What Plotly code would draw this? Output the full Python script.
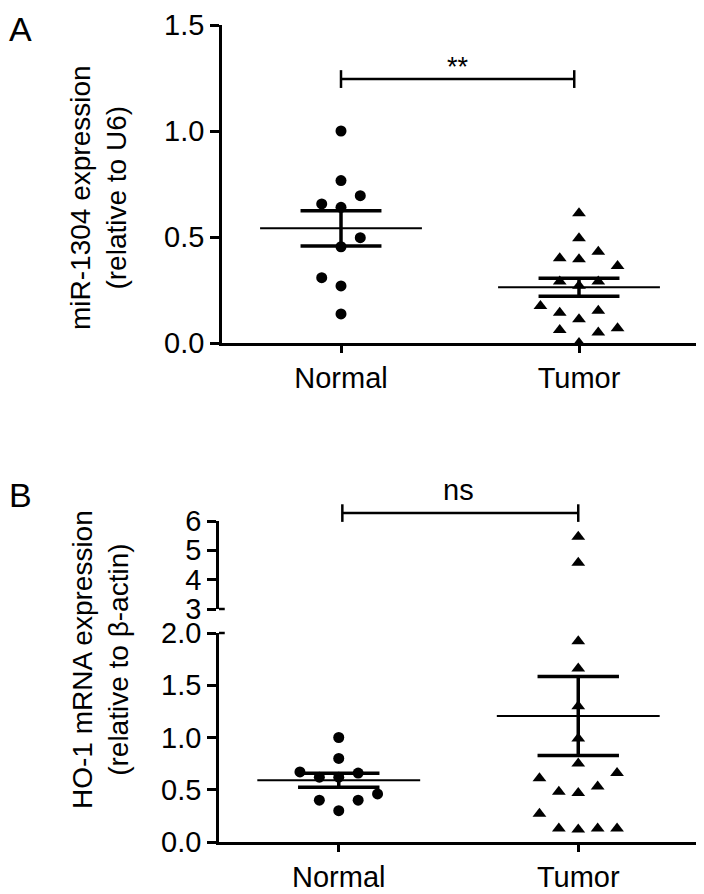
import plotly.graph_objects as go

# values
groups = ["Normal", "Tumor"]

# panel A: miR-1304 (relative to U6)
a_normal = [1.0, 0.766, 0.695, 0.656, 0.64, 0.497, 0.454, 0.308, 0.269, 0.137]
a_normal_slot = [0, 0, 1, -1, 0, 1, 0, -1, 0, 0]
a_tumor = [0.612, 0.494, 0.431, 0.40, 0.395, 0.363, 0.29, 0.27, 0.29,
           0.175, 0.143, 0.152, 0.112, 0.061, 0.05, 0.069, 0.0]
a_tumor_slot = [0, 0, 1, -1, 0, 2, -1, 0, 1, -2, -1, 1, 0, -1, 1, 2, 0]
a_mean = [0.541, 0.263]
a_sem = [0.083, 0.042]
a_sig = 1.245

# panel B: HO-1 mRNA (relative to beta-actin)
b_normal = [1.0, 0.80, 0.67, 0.62, 0.62, 0.66, 0.46, 0.40, 0.40, 0.30]
b_normal_slot = [0, 0, -2, -1, 0, 1, 2, -1, 1, 0]
b_tumor = [5.46, 4.58, 1.92, 1.66, 1.30, 0.99, 0.75, 0.61, 0.66,
           0.48, 0.47, 0.53, 0.27, 0.13, 0.12, 0.13, 0.13]
b_tumor_slot = [0, 0, 0, 0, 0, 0, 0, -2, 2, -1, 0, 1, -2, -1, 0, 1, 2]
b_mean = [0.592, 1.206]
b_sem = [0.067, 0.378]
b_break = 2.0

# the page body has an 8px margin, so the figure is a bit smaller than the window
OFF = 8
W, H = 704 - OFF, 894 - OFF
FONT = "Arial, 'Liberation Sans', sans-serif"
SPREAD = 0.081
MEAN_HALF, SEM_HALF = 0.34, 0.17


def px_x(p):
    return (p - OFF) / W


def px_y(p):
    return 1 - (p - OFF) / H


fig = go.Figure()


def add_points(vals, slots, gi, symbol, size, xa, ya_low, ya_high=None):
    lo = [(gi + s * SPREAD, v) for v, s in zip(vals, slots) if ya_high is None or v <= b_break]
    hi = [(gi + s * SPREAD, v) for v, s in zip(vals, slots) if ya_high is not None and v > b_break]
    for pts, ya in [(lo, ya_low), (hi, ya_high)]:
        if not pts:
            continue
        fig.add_trace(go.Scatter(
            x=[p[0] for p in pts], y=[p[1] for p in pts], mode="markers",
            marker=dict(symbol=symbol, size=size, color="black"),
            xaxis=xa, yaxis=ya, cliponaxis=False, showlegend=False))


def add_mean_sem(means, sems, xa, ya):
    for gi, (m, s) in enumerate(zip(means, sems)):
        fig.add_trace(go.Scatter(x=[gi - MEAN_HALF, gi + MEAN_HALF], y=[m, m], mode="lines",
                                 line=dict(color="black", width=2), xaxis=xa, yaxis=ya,
                                 showlegend=False))
        for yy in (m - s, m + s):
            fig.add_trace(go.Scatter(x=[gi - SEM_HALF, gi + SEM_HALF], y=[yy, yy], mode="lines",
                                     line=dict(color="black", width=3.5), xaxis=xa, yaxis=ya,
                                     showlegend=False))
        fig.add_trace(go.Scatter(x=[gi, gi], y=[m - s, m + s], mode="lines",
                                 line=dict(color="black", width=3.5), xaxis=xa, yaxis=ya,
                                 showlegend=False))


add_points(a_normal, a_normal_slot, 0, "circle", 11, "x", "y")
add_points(a_tumor, a_tumor_slot, 1, "triangle-up", 12, "x", "y")
add_mean_sem(a_mean, a_sem, "x", "y")

add_points(b_normal, b_normal_slot, 0, "circle", 11, "x2", "y2", "y3")
add_points(b_tumor, b_tumor_slot, 1, "triangle-up", 12, "x2", "y2", "y3")
add_mean_sem(b_mean, b_sem, "x2", "y2")

axis_common = dict(showline=True, linecolor="black", linewidth=2.5, ticks="outside",
                   tickcolor="black", tickwidth=2.5, showgrid=False, zeroline=False,
                   automargin=False,
                   tickfont=dict(family=FONT, size=29, color="black"), fixedrange=True)

fig.update_layout(
    template="none",
    width=W, height=H, margin=dict(l=0, r=0, t=0, b=0, pad=0),
    paper_bgcolor="white", plot_bgcolor="white", showlegend=False,
    xaxis=dict(axis_common, domain=[px_x(222), px_x(698)], range=[-0.5, 1.5],
               tickvals=[0, 1], ticktext=groups, ticklen=7, anchor="y"),
    yaxis=dict(axis_common, domain=[px_y(343), px_y(25)], range=[0, 1.5],
               tickvals=[0, 0.5, 1.0, 1.5], tickformat=".1f", ticklen=9, anchor="x"),
    xaxis2=dict(axis_common, domain=[px_x(219), px_x(698)], range=[-0.5, 1.5],
                tickvals=[0, 1], ticktext=groups, ticklen=7, anchor="y2"),
    yaxis2=dict(axis_common, domain=[px_y(842), px_y(633)], range=[0, 2],
                tickvals=[0, 0.5, 1.0, 1.5, 2.0], tickformat=".1f", ticklen=9, anchor="x2"),
    yaxis3=dict(axis_common, domain=[px_y(609), px_y(521)], range=[3, 6],
                tickvals=[3, 4, 5, 6], tickformat="d", ticklen=9, anchor="x2"),
)

# significance bars
line = dict(color="black", width=2.5)
fig.add_shape(type="line", xref="x", yref="y", x0=0, x1=0.98, y0=a_sig, y1=a_sig, line=line)
for xx in (0, 0.98):
    fig.add_shape(type="line", xref="x", yref="y", x0=xx, x1=xx,
                  y0=a_sig - 0.042, y1=a_sig + 0.042, line=line)
fig.add_annotation(text="**", xref="x", yref="y", x=0.49, y=a_sig - 0.025, yanchor="bottom",
                   showarrow=False, font=dict(family=FONT, size=27, color="black"))

b_sig = 1.09  # in y3 domain units, just above the top of the upper segment
fig.add_shape(type="line", xref="x2", yref="y3 domain", x0=0.015, x1=1.0, y0=b_sig, y1=b_sig, line=line)
for xx in (0.015, 1.0):
    fig.add_shape(type="line", xref="x2", yref="y3 domain", x0=xx, x1=xx,
                  y0=b_sig - 0.1, y1=b_sig + 0.1, line=line)
fig.add_annotation(text="ns", xref="x2", yref="y3 domain", x=0.5, y=b_sig + 0.06, yanchor="bottom",
                   showarrow=False, font=dict(family=FONT, size=29, color="black"))

# little caps at the axis break
for yr, yv in (("y3 domain", 0), ("y2 domain", 1)):
    fig.add_shape(type="line", xref="x2 domain", yref=yr, x0=0, x1=0.012, y0=yv, y1=yv, line=line)

# axis titles and panel letters
fig.add_annotation(text="miR-1304 expression<br>(relative to U6)", xref="paper", yref="paper",
                   x=px_x(98), y=px_y(198), xanchor="center", yanchor="middle", textangle=-90,
                   showarrow=False, font=dict(family=FONT, size=28, color="black"))
fig.add_annotation(text="HO-1 mRNA expression<br>(relative to β-actin)", xref="paper", yref="paper",
                   x=px_x(100), y=px_y(660), xanchor="center", yanchor="middle", textangle=-90,
                   showarrow=False, font=dict(family=FONT, size=28, color="black"))
fig.add_annotation(text="A", xref="paper", yref="paper", x=px_x(8), y=px_y(29),
                   xanchor="left", yanchor="middle", showarrow=False, borderpad=0,
                   font=dict(family=FONT, size=34, color="black"))
fig.add_annotation(text="B", xref="paper", yref="paper", x=px_x(8), y=px_y(495),
                   xanchor="left", yanchor="middle", showarrow=False, borderpad=0,
                   font=dict(family=FONT, size=34, color="black"))

fig.write_html("out.html")
